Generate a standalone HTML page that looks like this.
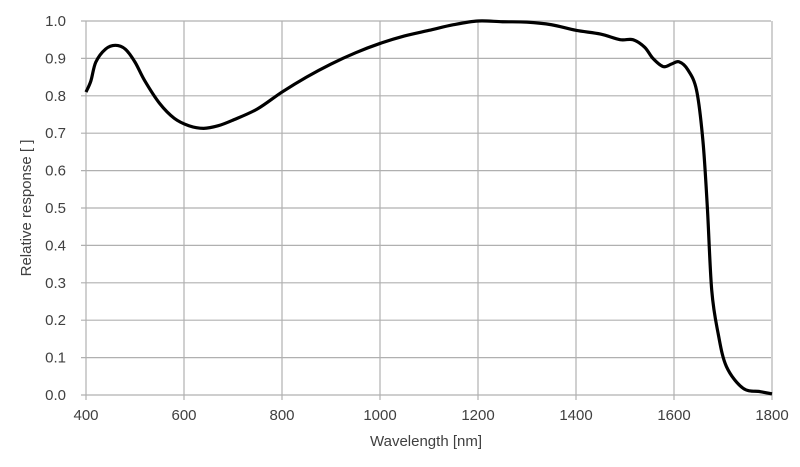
<!DOCTYPE html>
<html><head><style>
body{margin:0;background:#fff;width:800px;height:462px;overflow:hidden}
text{font-family:"Liberation Sans",sans-serif;fill:#404040;font-size:15px}
</style></head><body>
<svg id="s" width="800" height="462" xmlns="http://www.w3.org/2000/svg">
<g id="grid" stroke="#b0b0b0" stroke-width="1.2"></g>
<g id="lbl"></g>
<path id="c" fill="none" stroke="#000" stroke-width="3.2" stroke-linejoin="round"/>
<text x="426" y="446" text-anchor="middle">Wavelength [nm]</text>
<text transform="translate(31,208) rotate(-90)" text-anchor="middle">Relative response [ ]</text>
</svg>
<script>
const X=w=>86+(w-400)*0.49, Y=v=>395-v*374;
let g='',l='';
for(let w=400;w<=1800;w+=200){g+=`<line x1="${X(w)}" y1="21" x2="${X(w)}" y2="400"/>`;l+=`<text x="${X(w)}" y="420" text-anchor="middle">${w}</text>`;}
for(let i=0;i<=10;i++){const y=Y(i/10);g+=`<line x1="81" y1="${y}" x2="771" y2="${y}"/>`;l+=`<text x="66" y="${y+5}" text-anchor="end">${(i/10).toFixed(1)}</text>`;}
document.getElementById('grid').innerHTML=g;document.getElementById('lbl').innerHTML=l;
const p=[[400,.81],[410,.84],[420,.89],[440,.925],[460,.935],[480,.925],[500,.89],[520,.84],[550,.78],[580,.74],[610,.72],[640,.713],[670,.72],[700,.735],[750,.765],[800,.81],[850,.85],[900,.885],[950,.915],[1000,.94],[1050,.96],[1100,.975],[1150,.99],[1200,1],[1250,.998],[1300,.997],[1350,.99],[1400,.975],[1450,.965],[1490,.95],[1516,.95],[1540,.93],[1557,.9],[1578,.878],[1595,.885],[1610,.891],[1628,.87],[1646,.815],[1659,.68],[1668,.503],[1677,.28],[1690,.165],[1707,.076],[1741,.018],[1776,.009],[1800,.003]];
const q=p.map(a=>[X(a[0]),Y(a[1])]);
let d=`M${q[0][0]},${q[0][1]}`;
for(let i=0;i<q.length-1;i++){const p0=q[i-1]||q[i],p1=q[i],p2=q[i+1],p3=q[i+2]||p2;
d+=` C${p1[0]+(p2[0]-p0[0])/6},${p1[1]+(p2[1]-p0[1])/6} ${p2[0]-(p3[0]-p1[0])/6},${p2[1]-(p3[1]-p1[1])/6} ${p2[0]},${p2[1]}`;}
document.getElementById('c').setAttribute('d',d);
</script>
</body></html>
